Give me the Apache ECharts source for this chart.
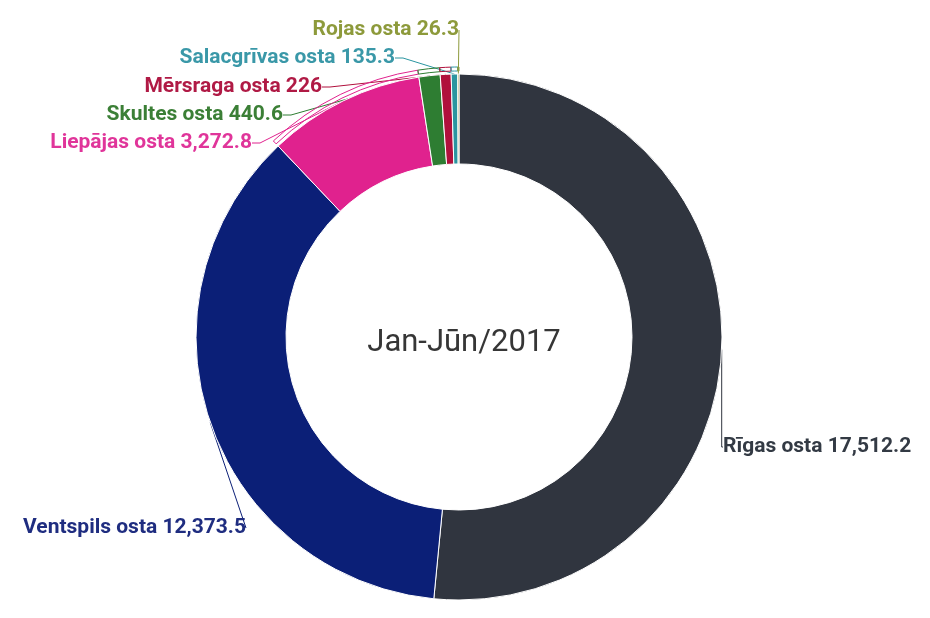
<!DOCTYPE html>
<html>
<head>
<meta charset="utf-8">
<script src="https://cdn.jsdelivr.net/npm/echarts@6/dist/echarts.min.js"></script>
<style>
  html, body { margin: 0; padding: 0; background: #fff; }
  #chart { width: 930px; height: 618px; }
</style>
</head>
<body>
<div id="chart"></div>
<script>
// ostu dati, Jan-Jūn/2017
const ports = ['Rīgas osta', 'Ventspils osta', 'Liepājas osta', 'Skultes osta', 'Mērsraga osta', 'Salacgrīvas osta', 'Rojas osta']
const values = [17512.2, 12373.5, 3272.8, 440.6, 226, 135.3, 26.3]
const centerLabel = 'Jan-Jūn/2017'

const sliceColors = ['#30353f', '#0b1f77', '#e0228e', '#2e7d32', '#b0103c', '#2a95a0', '#8d9a3b']
const textColors = ['#333a44', '#1f2d80', '#e0359a', '#3b7f36', '#b01a45', '#3a98a8', '#8d9a3b']

// label anchor points (text edge x, middle y)
const labelPos = [
  { x: 723, y: 447, align: 'left' },
  { x: 246, y: 528, align: 'right' },
  { x: 252, y: 143, align: 'right' },
  { x: 283, y: 115, align: 'right' },
  { x: 322, y: 87, align: 'right' },
  { x: 395, y: 58, align: 'right' },
  { x: 459, y: 30, align: 'right' }
]

const fmt = v => v.toLocaleString('en-US', { maximumFractionDigits: 1 })

const chart = echarts.init(document.getElementById('chart'))

chart.setOption({
  animation: false,
  title: {
    text: centerLabel,
    left: 459,
    top: 338,
    textAlign: 'center',
    textVerticalAlign: 'middle',
    textStyle: {
      fontFamily: 'Roboto',
      fontSize: 31,
      fontWeight: 'normal',
      color: '#363636'
    }
  },
  series: [
    {
      type: 'pie',
      center: [459, 337],
      radius: [173, 263],
      startAngle: 90,
      clockwise: true,
      avoidLabelOverlap: false,
      itemStyle: {
        borderColor: '#fff',
        borderWidth: 1
      },
      label: {
        show: true,
        fontFamily: 'Roboto',
        fontSize: 21,
        fontWeight: 'bold',
        formatter: p => p.name + ' ' + fmt(p.value)
      },
      labelLine: {
        show: true,
        length: 10,
        length2: 8,
        lineStyle: { width: 1 }
      },
      labelLayout: p => {
        const pos = labelPos[p.dataIndex]
        return { x: pos.x, y: pos.y, align: pos.align, verticalAlign: 'middle' }
      },
      data: ports.map((name, i) => ({
        name,
        value: values[i],
        itemStyle: { color: sliceColors[i] },
        label: { color: textColors[i] }
      }))
    },
    {
      // thin brackets above the small slices
      type: 'pie',
      silent: true,
      center: [459, 337],
      radius: [266, 270],
      startAngle: 90,
      clockwise: true,
      label: { show: false },
      labelLine: { show: false },
      data: ports.map((name, i) => ({
        name,
        value: values[i],
        itemStyle: {
          color: 'transparent',
          borderColor: i >= 2 ? sliceColors[i] : 'transparent',
          borderWidth: 1
        }
      }))
    }
  ]
})
</script>
</body>
</html>
